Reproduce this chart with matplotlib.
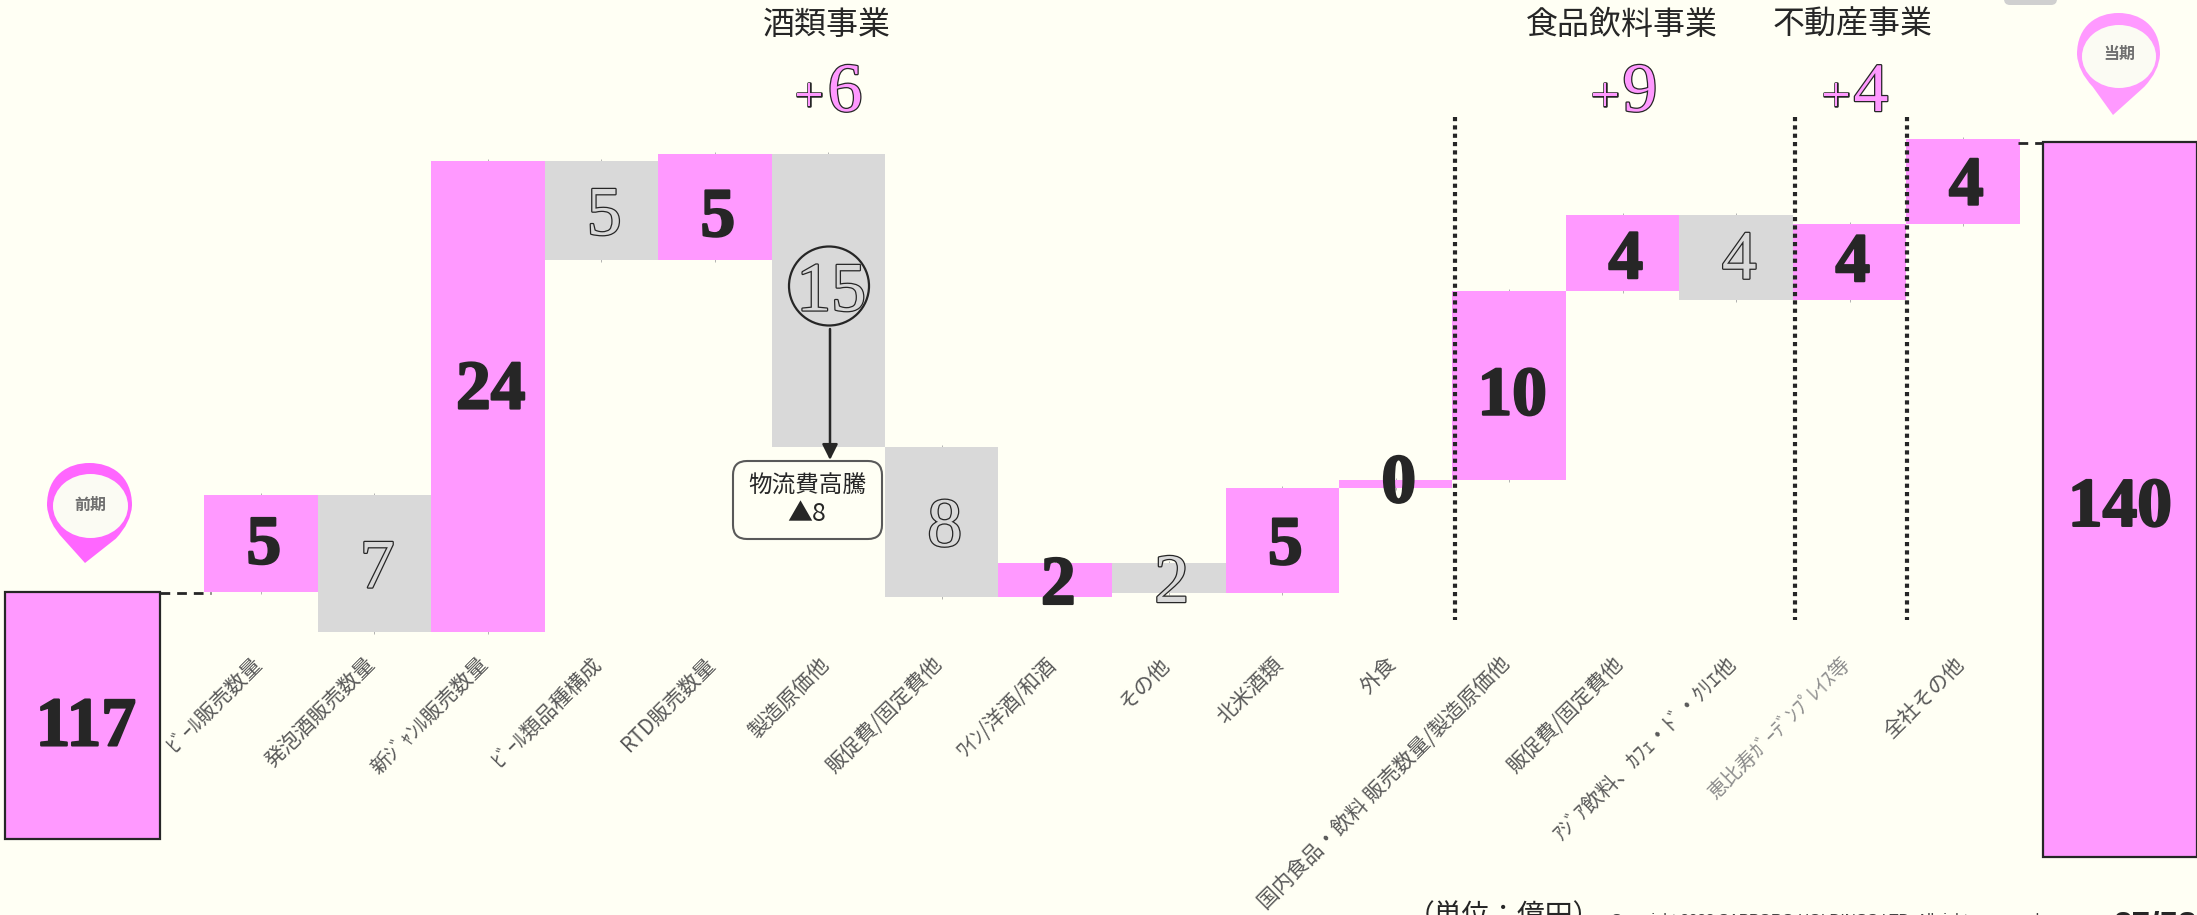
import matplotlib
matplotlib.use("Agg")
import matplotlib.pyplot as plt
import matplotlib.patheffects as pe
import matplotlib.transforms as mtrans
from matplotlib.patches import Ellipse, FancyBboxPatch, FancyArrowPatch, PathPatch
from matplotlib.path import Path

W, H = 2197, 915
BG = "#FFFFF4"
PINK = "#FF99FF"
GRAY = "#D9D9D9"
DARK = "#262626"
CJK = ["Noto Sans CJK JP", "DejaVu Sans"]
SERIF = "Liberation Serif"
plt.rcParams["font.family"] = CJK

# ---- data (億円) ----
start_value = 117
end_value = 140
start_label = "117"
end_label = "140"
categories = ["ﾋﾞｰﾙ販売数量", "発泡酒販売数量", "新ｼﾞｬﾝﾙ販売数量", "ﾋﾞｰﾙ類品種構成", "RTD販売数量",
              "製造原価他", "販促費/固定費他", "ﾜｲﾝ/洋酒/和酒", "その他", "北米酒類", "外食",
              "国内食品・飲料 販売数量/製造原価他", "販促費/固定費他", "ｱｼﾞｱ飲料、ｶﾌｪ・ﾄﾞ・ｸﾘｴ他",
              "恵比寿ｶﾞｰﾃﾞﾝﾌﾟﾚｲｽ等", "全社その他"]
deltas = [4.95, -6.99, 24.03, -5.05, 5.41, -14.95, -7.65, 1.73, -1.53, 5.40, 0.41, 9.64, 3.88, -4.34, 3.88, 4.34]
labels = ["5", "7", "24", "5", "5", "15", "8", "2", "2", "5", "0", "10", "4", "4", "4", "4"]
label_dy = [4, 0, 12, 0, -5, 14, 0, 0, 0, 0, 5, -6, -2, 2, 4, 0]
segments = ["酒類事業", "食品飲料事業", "不動産事業"]
segment_totals = ["6", "9", "4"]

# ---- axes: data scale mapped onto the slide ----
AX_BOTTOM = 652
PX_PER_UNIT = 19.6
BAR_W = 113.5
X0 = 260.75
fig = plt.figure(figsize=(W / 100, H / 100), dpi=100, facecolor=BG)
ax = fig.add_axes([0, 1 - AX_BOTTOM / H, 1, AX_BOTTOM / H])
ax.set_facecolor("none")
ax.set_xlim((0 - X0) / BAR_W, (W - X0) / BAR_W)
ax.set_ylim(117 + (592.5 - AX_BOTTOM) / PX_PER_UNIT, 117 + 592.5 / PX_PER_UNIT)
for s in ax.spines.values():
    s.set_visible(False)
ax.set_yticks([])
PIXEL = mtrans.IdentityTransform()


def px(x, y):
    """slide pixel -> figure fraction"""
    return x / W, 1 - y / H


def outline(lw=1.8, color=DARK):
    return [pe.withStroke(linewidth=lw, foreground=color)]


HEAVY = outline(1.6)

# ---- waterfall ----
level = start_value
for i, d in enumerate(deltas):
    bottom = level if d >= 0 else level + d
    top = bottom + abs(d)
    ax.bar(i, abs(d), bottom=bottom, width=1.0, color=PINK if d >= 0 else GRAY, linewidth=0, clip_on=False, zorder=2)
    ax.plot([i, i], [top, bottom], ls="none", marker="|", ms=3, mew=0.6, color="#A6A6A6", clip_on=False, zorder=1)
    mid = (top + bottom) / 2
    kw = dict(xy=(i, mid), xytext=(3, label_dy[i] - 23.5), textcoords="offset pixels", ha="center", va="baseline",
              family=SERIF, fontsize=50, zorder=6, annotation_clip=False)
    if d >= 0:
        ax.annotate(labels[i], color=DARK, fontweight="bold", path_effects=HEAVY, **kw)
    else:
        ax.annotate(labels[i], color=GRAY, path_effects=outline(), **kw)
    level += d

# totals (bars with truncated base)
sx0 = (82 - X0) / BAR_W
sw = 155 / BAR_W
ex0 = (2120 - X0) / BAR_W
ew = 154 / BAR_W
start_bottom = start_value - (839 - 592) / PX_PER_UNIT
end_bottom = end_value - (857 - 142) / PX_PER_UNIT
ax.bar(sx0, start_value - start_bottom, bottom=start_bottom, width=sw, color=PINK, edgecolor=DARK, linewidth=1.6, clip_on=False, zorder=2)
ax.bar(ex0, end_value - end_bottom, bottom=end_bottom, width=ew, color=PINK, edgecolor=DARK, linewidth=1.6, clip_on=False, zorder=2)
ax.text(sx0 + 4 / BAR_W, start_bottom + 4.8, start_label, family=SERIF, fontsize=50, fontweight="bold", color=DARK,
        ha="center", va="baseline", zorder=6, path_effects=HEAVY)
ax.text(ex0, end_value - 19.6, end_label, family=SERIF, fontsize=50, fontweight="bold", color=DARK,
        ha="center", va="baseline", zorder=6, path_effects=HEAVY)

# x tick labels
ax.set_xticks(range(len(categories)))
ax.set_xticklabels(categories)
ax.tick_params(axis="x", length=0, pad=1)
for i, t in enumerate(ax.get_xticklabels()):
    t.set(rotation=45, ha="right", va="top", rotation_mode="anchor", fontsize=15, color="#595959")
    t.set_transform(t.get_transform() + mtrans.ScaledTranslation(-10 / 100, 0, fig.dpi_scale_trans))
    if categories[i].startswith("恵比寿"):
        t.set(fontsize=14.5, color="#8C8C8C")

# connectors
fig.add_artist(plt.Line2D(*zip(px(160, 593), px(211, 593)), color=DARK, lw=2, ls=(0, (3.5, 2.5))))
fig.add_artist(plt.Line2D(*zip(px(2018, 143), px(2043, 143)), color=DARK, lw=2, ls=(0, (3.5, 2.5))))

# segment separators
for x in (1455, 1795, 1907):
    fig.add_artist(plt.Line2D(*zip(px(x, 117), px(x, 620)), color=DARK, lw=3, ls=(0, (1, 1)), zorder=5))


def ftext(x, y, s, **kw):
    fx, fy = px(x, y)
    return fig.text(fx, fy, s, **kw)


# segment heads
for s, cx in zip(segments, (827, 1622, 1853)):
    ftext(cx, 25, s, fontsize=23, color=DARK, ha="center", va="center")
for t, plus_x, digit_x in zip(segment_totals, (809, 1605, 1836), (845, 1640, 1871)):
    ftext(plus_x, 111, "+", family=SERIF, fontsize=36, color=PINK, ha="center", va="baseline", path_effects=outline())
    ftext(digit_x, 111, t, family=SERIF, fontsize=50, color=PINK, ha="center", va="baseline", path_effects=outline())

# callout on the 15 bar
fx, fy = px(829, 286)
fig.add_artist(Ellipse((fx, fy), 80 / W, 79 / H, fill=False, edgecolor=DARK, lw=1.6, transform=fig.transFigure, zorder=7))
fig.add_artist(FancyArrowPatch(px(830, 329), px(830, 460), arrowstyle="-|>,head_length=0.7,head_width=0.35",
                               mutation_scale=13.4, color=DARK, lw=1.8, shrinkA=0, shrinkB=0,
                               transform=fig.transFigure, zorder=7))
fig.add_artist(FancyBboxPatch((733, H - 539), 149, 78, boxstyle="round,pad=0,rounding_size=14", facecolor=BG,
                              edgecolor="#595959", lw=1.5, transform=PIXEL, zorder=7))
ftext(807, 486, "物流費高騰", fontsize=17, color=DARK, ha="center", va="center", zorder=8)
ftext(807, 514, "▲8", fontsize=18, color=DARK, ha="center", va="center", zorder=8)


# pins
def pin(x_l, x_r, y_t, tip_x, tip_y, color, in_l, in_r, in_t, in_b, text, tx, ty):
    cx = (x_l + x_r) / 2
    cy = y_t + (x_r - x_l) * 0.5
    k = (x_r - x_l) / 2
    verts = [(tip_x, tip_y), (x_l + k * 0.38, cy + k * 0.78), (x_l + k * 0.02, cy + k * 0.4), (x_l, cy),
             (x_l, y_t + 12), (cx - k * 0.5, y_t), (cx, y_t),
             (cx + k * 0.5, y_t), (x_r, y_t + 12), (x_r, cy),
             (x_r - k * 0.02, cy + k * 0.4), (x_r - k * 0.38, cy + k * 0.78), (tip_x, tip_y)]
    verts = [(a, H - b) for a, b in verts]
    codes = [Path.MOVETO, Path.LINETO, Path.CURVE3, Path.CURVE3, Path.CURVE4, Path.CURVE4, Path.CURVE4,
             Path.CURVE4, Path.CURVE4, Path.CURVE4, Path.CURVE3, Path.CURVE3, Path.LINETO]
    fig.add_artist(PathPatch(Path(verts, codes), facecolor=color, edgecolor="none", transform=PIXEL, zorder=4))
    fig.add_artist(Ellipse(((in_l + in_r) / 2, H - (in_t + in_b) / 2), in_r - in_l, in_b - in_t, facecolor="#FBFBF3",
                           edgecolor="none", transform=PIXEL, zorder=5))
    ftext(tx, ty, text, fontsize=11.5, fontweight="bold", color="#707070", ha="center", va="center", zorder=6)


pin(47, 132, 463, 85, 563, "#FF66FF", 53, 128, 474, 538, "前期", 90, 505)
pin(2077, 2160, 13, 2113, 115, PINK, 2082, 2156, 25, 88, "当期", 2119, 54)

# clipped gray tab at the top
fig.add_artist(FancyBboxPatch((2004, H - 5), 53, 25, boxstyle="round,pad=0,rounding_size=6", facecolor="#D0D0D0",
                              edgecolor="none", transform=PIXEL, zorder=1))

# footer (runs off the slide)
ftext(1504, 916, "（単位：億円）", fontsize=20, color=DARK, ha="center", va="center")
ftext(1611, 913, "Copyright 2022 SAPPORO HOLDINGS LTD. All rights reserved.", fontsize=11, color="#404040", ha="left", va="top",
      family="Liberation Sans")
ftext(2114, 911, "27/58", fontsize=24, fontweight="bold", color=DARK, ha="left", va="top", family="Liberation Sans")

fig.savefig("out.png", dpi=100, facecolor=BG)
